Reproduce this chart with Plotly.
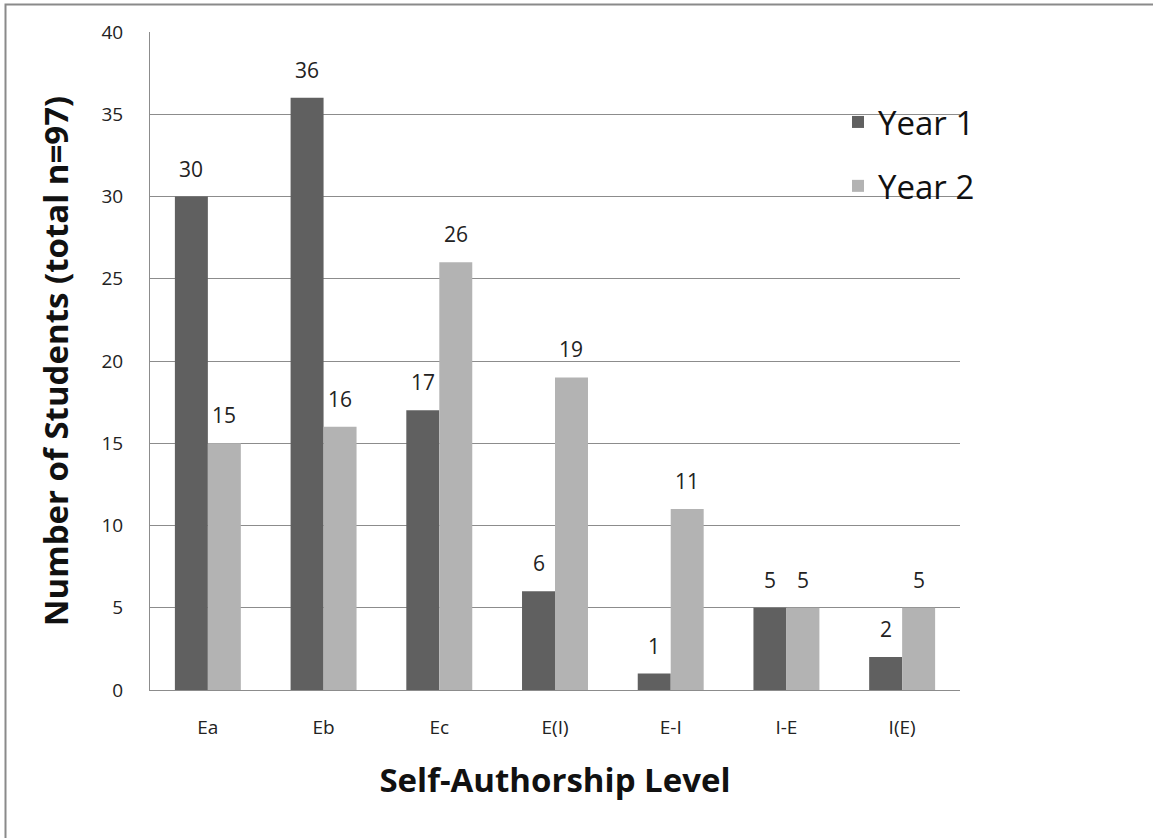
import plotly.graph_objects as go

levels = ["Ea", "Eb", "Ec", "E(I)", "E-I", "I-E", "I(E)"]
year1 = [30, 36, 17, 6, 1, 5, 2]
year2 = [15, 16, 26, 19, 11, 5, 5]
y_ticks = [0, 5, 10, 15, 20, 25, 30, 35, 40]

FONT = "Open Sans, Lato, sans-serif"
W, H = 1153, 838
L, R, T, B = 150, 193, 32, 148
pw, ph = W - L - R, H - T - B
BARGAP = 0.43
bar_px = pw / len(levels) * (1 - BARGAP) / 2


def px_x(p):
    return (p - L) / pw


def px_y(p):
    return (H - B - p) / ph


fig = go.Figure()
series = [("Year 1", year1, "#606060", -1), ("Year 2", year2, "#b3b3b3", 1)]
for name, vals, color, side in series:
    fig.add_trace(go.Bar(
        name=name, x=levels, y=vals, legendgroup=name,
        marker=dict(color=color, line=dict(width=0)),
    ))

# value labels above each bar
annotations = []
for name, vals, color, side in series:
    for cat, v in zip(levels, vals):
        annotations.append(dict(
            x=cat, y=v, xref="x", yref="y", text=str(v), showarrow=False,
            xanchor="center", yanchor="bottom",
            xshift=side * bar_px / 2, yshift=12,
            font=dict(size=21, color="#222222", family=FONT),
        ))

fig.update_layout(
    width=W, height=H,
    margin=dict(l=L, r=R, t=T, b=B),
    paper_bgcolor="white", plot_bgcolor="white",
    barmode="group", bargap=BARGAP, bargroupgap=0,
    font=dict(family=FONT, color="#222222"),
    showlegend=True,
    legend=dict(
        x=px_x(838), y=px_y(94), xanchor="left", yanchor="top",
        font=dict(size=33, color="#111111", family=FONT),
        bgcolor="rgba(0,0,0,0)", traceorder="grouped", tracegroupgap=18,
    ),
    xaxis=dict(
        showgrid=False, showline=True, linecolor="#8c8c8c", linewidth=1,
        ticks="", tickfont=dict(size=19, color="#222222"),
        ticklabelstandoff=20,
        title=dict(text="<b>Self-Authorship Level</b>",
                   font=dict(size=33, color="#111111"), standoff=30),
    ),
    yaxis=dict(
        range=[0, 40], tickvals=y_ticks,
        showgrid=True, gridcolor="#8c8c8c", gridwidth=1,
        showline=True, linecolor="#8c8c8c", linewidth=1,
        zeroline=False, ticks="",
        tickfont=dict(size=19, color="#222222"),
        ticklabelstandoff=22,
        title=dict(text="<b>Number of Students (total n=97)</b>",
                   font=dict(size=33, color="#111111"), standoff=22),
    ),
    annotations=annotations,
    shapes=[dict(
        type="rect", xref="paper", yref="paper",
        x0=px_x(5.5), x1=px_x(1165), y0=px_y(850), y1=px_y(4.5),
        line=dict(color="#8a8a8a", width=2), fillcolor="rgba(0,0,0,0)",
        layer="below",
    )],
)

fig.write_html("out.html")
